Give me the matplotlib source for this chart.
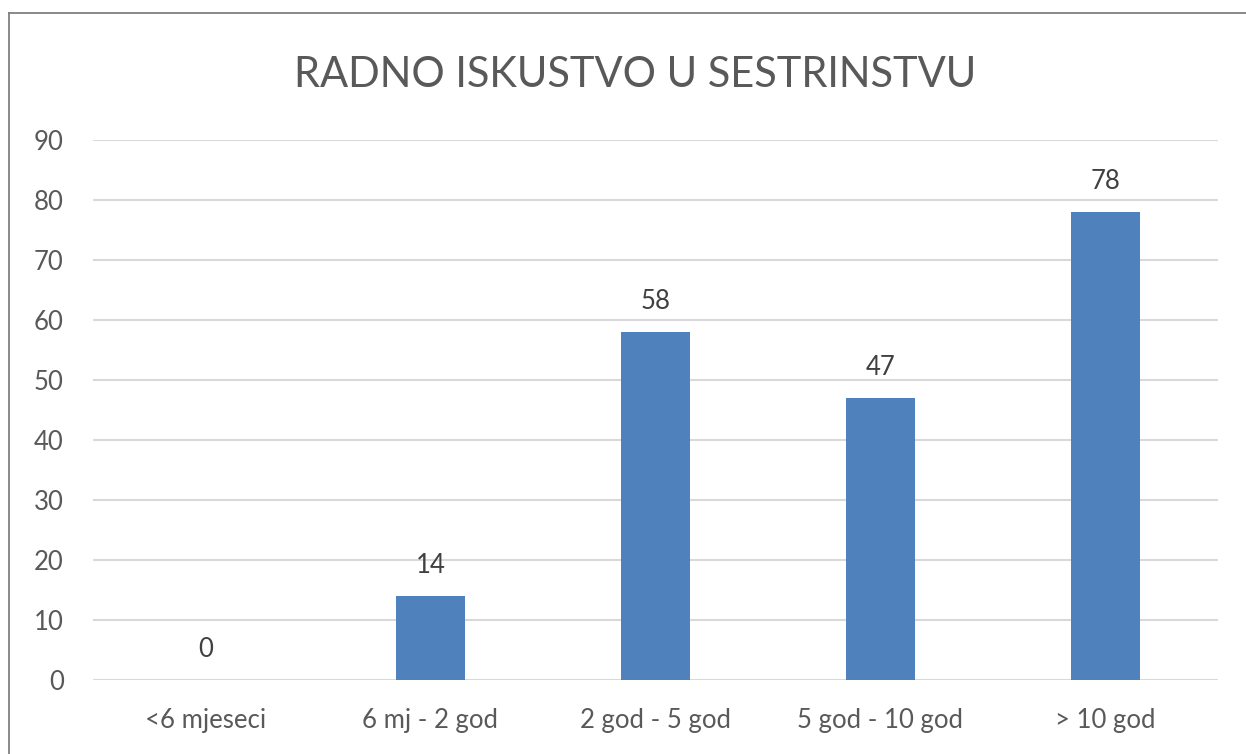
import matplotlib.pyplot as plt
from matplotlib.lines import Line2D

categories = ["<6 mjeseci", "6 mj - 2 god", "2 god - 5 god", "5 god - 10 god", "> 10 god"]
values = [0, 14, 58, 47, 78]
y_ticks = [0, 10, 20, 30, 40, 50, 60, 70, 80, 90]

plt.rcParams["font.family"] = ["Lato", "DejaVu Sans"]
text_col = "#595959"

fig = plt.figure(figsize=(12.46, 7.54), dpi=100)
ax = fig.add_axes([0.0746, 0.0981, 0.9029, 0.7162])

x = range(len(categories))
ax.bar(x, values, width=0.31, color="#4F81BD", zorder=3)
for xi, v in zip(x, values):
    ax.annotate(str(v), (xi, v), xytext=(0, 13), textcoords="offset points",
                ha="center", va="bottom", fontsize=18.5, color="#404040")

ax.set_xlim(-0.5, len(categories) - 0.5)
ax.set_ylim(0, 90)
ax.set_yticks(y_ticks)
ax.set_xticks(list(x))
ax.set_xticklabels(categories)
ax.tick_params(axis="both", length=0, labelsize=18.5, colors=text_col)
ax.tick_params(axis="x", pad=20)
ax.tick_params(axis="y", pad=21)
ax.grid(axis="y", color="#D9D9D9", linewidth=1.5, zorder=0)
for s in ax.spines.values():
    s.set_visible(False)

fig.text(0.51, 0.9, "RADNO ISKUSTVO U SESTRINSTVU", ha="center", va="center",
         fontsize=30, color=text_col)

# partial frame around the chart area
fig.add_artist(Line2D([9 / 1246, 9 / 1246], [0, 1 - 13 / 754], color="#808080", lw=1.3))
fig.add_artist(Line2D([9 / 1246, 1], [1 - 13 / 754, 1 - 13 / 754], color="#808080", lw=1.3))

fig.savefig("out.png", dpi=100)
